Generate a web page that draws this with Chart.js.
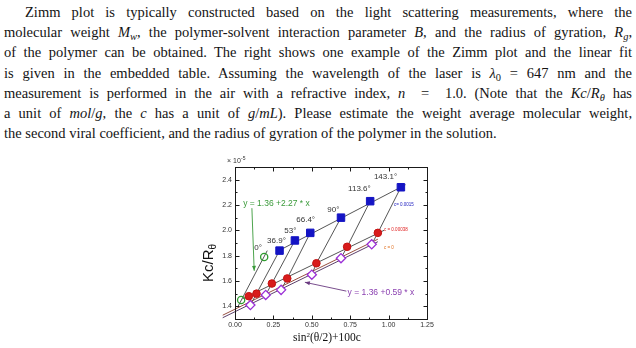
<!DOCTYPE html>
<html>
<head>
<meta charset="utf-8">
<script src="https://cdn.jsdelivr.net/npm/chart.js@4.4.0/dist/chart.umd.min.js"></script>
<style>
  body { margin: 0; width: 636px; height: 348px; background: #fff; overflow: hidden; position: relative; }
  #txt { position: absolute; left: 4px; top: 2px; width: 628px; font-family: "Liberation Serif", "Times New Roman", serif;
         font-size: 14.5px; line-height: 20.2px; color: #141414; }
  #txt div { text-align: justify; text-align-last: justify; }
  #txt div.last { text-align-last: left; }
  #txt .ind { padding-left: 21px; }
  .s { font-size: 0.72em; vertical-align: -0.28em; line-height: 0; }
  #box { position: absolute; left: 185px; top: 155px; width: 255px; height: 193px; }
</style>
</head>
<body>
<div id="txt">
  <div class="ind">Zimm plot is typically constructed based on the light scattering measurements, where the</div>
  <div>molecular weight <i>M<span class="s">w</span></i>, the polymer-solvent interaction parameter <i>B</i>, and the radius of gyration, <i>R<span class="s">g</span></i>,</div>
  <div>of the polymer can be obtained. The right shows one example of the Zimm plot and the linear fit</div>
  <div>is given in the embedded table. Assuming the wavelength of the laser is <i>λ</i><span class="s">0</span> = 647 nm and the</div>
  <div>measurement is performed in the air with a refractive index, <i>n</i> &nbsp;= &nbsp;1.0. (Note that the <i>Kc</i>/<i>R<span class="s">θ</span></i> has</div>
  <div>a unit of <i>mol</i>/<i>g</i>, the <i>c</i> has a unit of <i>g</i>/<i>mL</i>). Please estimate the weight average molecular weight,</div>
  <div class="last">the second viral coefficient, and the radius of gyration of the polymer in the solution.</div>
</div>
<div id="box"><canvas id="zimm" width="255" height="193"></canvas></div>
<script>
// c = 0.0015 (blue squares), angles 36.9 .. 143.1
const blueX = [0.29, 0.39, 0.49, 0.69, 0.88, 1.08];
const blueY = [1.84, 1.92, 1.98, 2.10, 2.23, 2.34];
// c = 0.00038 (red circles)
const redX = [0.09, 0.14, 0.24, 0.34, 0.53, 0.73, 0.93];
const redY = [1.48, 1.50, 1.58, 1.62, 1.74, 1.87, 1.98];
// c = 0 (open diamonds)
const purpX = [0.10, 0.20, 0.30, 0.50, 0.69, 0.89];
const purpY = [1.41, 1.49, 1.53, 1.65, 1.78, 1.89];
// theta = 0 extrapolation (open green circles)
const greenX = [0.04, 0.19];
const greenY = [1.45, 1.79];

// straight lines, end points
const zeroLineX = [0.02, 0.21],  zeroLineY = [1.40, 1.84];
const blueLineX = [0.27, 1.11],  blueLineY = [1.83, 2.36];
const redLineX  = [0.05, 0.97],  redLineY  = [1.46, 2.00];
const fitLineX  = [-0.08, 0.93], fitLineY  = [1.31, 1.91];   // y = 1.36 + 0.59x
const brnLineX  = [-0.08, 0.93], brnLineY  = [1.33, 1.93];

const angleLabels = ['0°', '36.9°', '53°', '66.4°', '90°', '113.6°', '143.1°'];
const angleLabX = [0.15, 0.27, 0.36, 0.46, 0.64, 0.81, 0.98];
const angleLabY = [1.86, 1.92, 2.00, 2.08, 2.16, 2.33, 2.42];

const xTicks = [0, 0.25, 0.5, 0.75, 1.0, 1.25];
const yTicks = [1.4, 1.6, 1.8, 2.0, 2.2, 2.4];

const pts = (xs, ys) => xs.map((x, i) => ({ x: x, y: ys[i] }));

function seg(xs, ys, color, w, clip) {
  return { data: pts(xs, ys), showLine: true, pointRadius: 0, borderColor: color, borderWidth: w,
           clip: clip, order: 2 };
}

const datasets = [
  { data: pts(blueX, blueY), pointStyle: 'rect', pointRadius: 5.3, backgroundColor: '#1414c4', borderColor: '#1414c4', order: 0 },
  { data: pts(redX, redY), pointStyle: 'circle', pointRadius: 3.8, backgroundColor: '#d81c1c', borderColor: '#c41010', order: 0 },
  { data: pts(purpX, purpY), pointStyle: 'rectRot', pointRadius: 4.6, backgroundColor: '#fff', borderColor: '#9b2fd6', borderWidth: 1.3, order: 0 },
  { data: pts(greenX, greenY), pointStyle: 'circle', pointRadius: 3.6, backgroundColor: 'rgba(255,255,255,0)', borderColor: '#2f9b2f', borderWidth: 1.3, order: 0 },
  seg(zeroLineX, zeroLineY, '#2a2a2a', 0.8),
  seg(blueLineX, blueLineY, '#2a2a2a', 0.8),
  seg(redLineX, redLineY, '#2a2a2a', 0.8),
  seg(brnLineX, brnLineY, '#8a3a2a', 0.9, false),
  seg(fitLineX, fitLineY, '#4a2a5a', 0.9, false)
];
// lines at constant angle: c=0 point -> c=0.00038 point -> c=0.0015 point
for (let i = 0; i < blueX.length; i++) {
  datasets.push(seg([purpX[i], redX[i + 1], blueX[i]], [purpY[i], redY[i + 1], blueY[i]], '#2a2a2a', 0.8));
}

function arrow(ctx, x1, y1, x2, y2, col) {
  ctx.strokeStyle = col; ctx.fillStyle = col; ctx.lineWidth = 0.9;
  ctx.beginPath(); ctx.moveTo(x1, y1); ctx.lineTo(x2, y2); ctx.stroke();
  const a = Math.atan2(y2 - y1, x2 - x1), L = 5, W = 2;
  ctx.beginPath();
  ctx.moveTo(x2, y2);
  ctx.lineTo(x2 - L * Math.cos(a) + W * Math.sin(a), y2 - L * Math.sin(a) - W * Math.cos(a));
  ctx.lineTo(x2 - L * Math.cos(a) - W * Math.sin(a), y2 - L * Math.sin(a) + W * Math.cos(a));
  ctx.closePath(); ctx.fill();
}

const SANS = '"Liberation Sans", Arial, sans-serif';

const decor = {
  id: 'decor',
  afterDraw(chart) {
    const { ctx, chartArea: a, scales: { x, y } } = chart;
    const L = Math.round(a.left) + 0.5, R = Math.round(a.right) + 0.5;
    const T = Math.round(a.top) + 0.5, B = Math.round(a.bottom) + 0.5;
    ctx.save();
    ctx.strokeStyle = '#1a1a1a'; ctx.lineWidth = 1;
    ctx.strokeRect(L, T, R - L, B - T);
    ctx.beginPath();
    for (let v = 0; v <= 1.25001; v += 0.125) {
      const px = Math.round(x.getPixelForValue(v)) + 0.5;
      const len = Math.abs(v / 0.25 - Math.round(v / 0.25)) < 1e-6 ? 4 : 2;
      ctx.moveTo(px, B); ctx.lineTo(px, B - len);
      ctx.moveTo(px, T); ctx.lineTo(px, T + len);
    }
    for (let v = 1.3; v <= 2.50001; v += 0.1) {
      const py = Math.round(y.getPixelForValue(v)) + 0.5;
      const major = Math.abs(v / 0.2 - Math.round(v / 0.2)) < 1e-6;
      const len = major ? 4 : 2;
      ctx.moveTo(L, py); ctx.lineTo(L + len, py);
      ctx.moveTo(R, py); ctx.lineTo(R - len, py);
    }
    ctx.stroke();

    // y axis title Kc/R_theta
    ctx.fillStyle = '#111';
    ctx.translate(24, 108);
    ctx.rotate(-Math.PI / 2);
    ctx.textBaseline = 'middle'; ctx.textAlign = 'left';
    ctx.font = '15px ' + SANS;
    const w1 = ctx.measureText('Kc/R').width;
    ctx.font = '10px ' + SANS;
    const w2 = ctx.measureText('θ').width;
    const start = -(w1 + w2) / 2;
    ctx.font = '15px ' + SANS;
    ctx.fillText('Kc/R', start, 0);
    ctx.font = '10px ' + SANS;
    ctx.fillText('θ', start + w1, 4.5);
    ctx.setTransform(1, 0, 0, 1, 0, 0);

    // x axis title
    ctx.fillStyle = '#111';
    ctx.textAlign = 'left'; ctx.textBaseline = 'alphabetic';
    const SER = '"Liberation Serif", "Times New Roman", serif';
    const parts = [['sin', 11.5, 0], ['2', 7, -4.5], ['(θ/2)+100c', 11.5, 0]];
    let tw = 0;
    parts.forEach(p => { ctx.font = p[1] + 'px ' + SER; tw += ctx.measureText(p[0]).width; });
    let cx = (a.left + a.right) / 2 - 4 - tw / 2;
    parts.forEach(p => { ctx.font = p[1] + 'px ' + SER; ctx.fillText(p[0], cx, 186 + p[2]); cx += ctx.measureText(p[0]).width; });

    // exponent
    ctx.fillStyle = '#333';
    ctx.font = '7px ' + SANS;
    ctx.textAlign = 'left'; ctx.textBaseline = 'middle';
    ctx.fillText('× 10', 42, 6);
    ctx.font = '5px ' + SANS;
    ctx.fillText('-5', 56, 3.5);

    // angle labels
    ctx.font = '8px ' + SANS;
    ctx.textAlign = 'center'; ctx.fillStyle = '#333';
    angleLabels.forEach((t, i) => ctx.fillText(t, x.getPixelForValue(angleLabX[i]), y.getPixelForValue(angleLabY[i])));

    // fit equations with arrows
    ctx.font = '8.5px ' + SANS;
    ctx.fillStyle = '#3a9a3a';
    ctx.fillText('y = 1.36 +2.27 * x', x.getPixelForValue(0.27), y.getPixelForValue(2.21));
    arrow(ctx, x.getPixelForValue(0.11), y.getPixelForValue(2.175), x.getPixelForValue(0.125), y.getPixelForValue(1.68), '#3a9a3a');
    ctx.fillStyle = '#8a3fb0';
    ctx.fillText('y = 1.36 +0.59 * x', x.getPixelForValue(0.95), y.getPixelForValue(1.505));
    arrow(ctx, x.getPixelForValue(0.725), y.getPixelForValue(1.52), x.getPixelForValue(0.455), y.getPixelForValue(1.59), '#6a3a80');

    // concentration tags
    ctx.font = '4.5px ' + SANS;
    ctx.textAlign = 'left';
    ctx.fillStyle = '#2020c0';
    ctx.fillText('c= 0.0015', x.getPixelForValue(1.035), y.getPixelForValue(2.20));
    ctx.fillStyle = '#e02020';
    ctx.fillText('c = 0.00038', x.getPixelForValue(0.97), y.getPixelForValue(2.005));
    ctx.fillStyle = '#e07020';
    ctx.fillText('c = 0', x.getPixelForValue(0.97), y.getPixelForValue(1.865));
    ctx.restore();
  }
};

new Chart(document.getElementById('zimm'), {
  type: 'scatter',
  data: { datasets: datasets },
  options: {
    responsive: false,
    animation: false,
    devicePixelRatio: 1,
    layout: { padding: { top: 12, right: 13, left: 0, bottom: 0 } },
    plugins: { legend: { display: false }, tooltip: { enabled: false } },
    elements: { line: { tension: 0 } },
    scales: {
      x: {
        type: 'linear', min: 0, max: 1.25,
        grid: { display: false, drawTicks: false, tickLength: 0 }, border: { display: false },
        afterBuildTicks: s => { s.ticks = xTicks.map(v => ({ value: v })); },
        afterFit: s => { s.height = 29; },
        ticks: { padding: 2, color: '#333', font: { family: SANS, size: 7 },
                 callback: v => v.toFixed(2), maxRotation: 0 }
      },
      y: {
        type: 'linear', min: 1.3, max: 2.5,
        grid: { display: false, drawTicks: false, tickLength: 0 }, border: { display: false },
        afterBuildTicks: s => { s.ticks = yTicks.map(v => ({ value: v })); },
        afterFit: s => { s.width = 50; },
        ticks: { padding: 3, color: '#333', font: { family: SANS, size: 7 },
                 callback: v => v.toFixed(1) }
      }
    }
  },
  plugins: [decor]
});
</script>
</body>
</html>
